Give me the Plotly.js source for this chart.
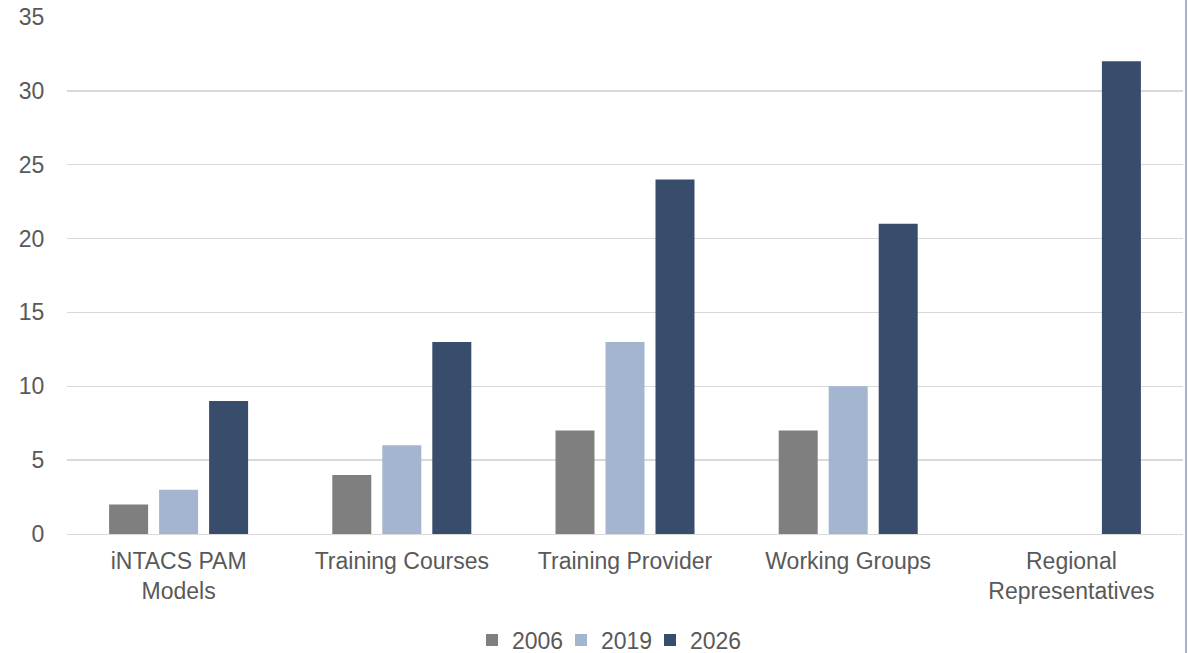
<!DOCTYPE html>
<html>
<head>
<meta charset="utf-8">
<script src="https://cdn.plot.ly/plotly-3.0.1.min.js"></script>
<style>
  html, body { margin: 0; padding: 0; background: #fff; }
  #wrap { position: relative; width: 1188px; height: 653px; }
  #chart { width: 1188px; height: 653px; }
  #edge { position: absolute; left: 1185px; top: 0; width: 2px; height: 653px; background: #a4b4cf; }
</style>
</head>
<body>
<div id="wrap">
  <div id="chart"></div>
  <div id="edge"></div>
</div>
<script>
const categories = ["iNTACS PAM<br>Models", "Training Courses", "Training Provider", "Working Groups", "Regional<br>Representatives"];
const years = ["2006", "2019", "2026"];
const values2006 = [2, 4, 7, 7, null];
const values2019 = [3, 6, 13, 10, null];
const values2026 = [9, 13, 24, 21, 32];
const yTicks = [0, 5, 10, 15, 20, 25, 30, 35];

const colors = ["#7f7f7f", "#a3b5cf", "#384c6b"];
const series = [values2006, values2019, values2026];
const legendIds = ["legend", "legend2", "legend3"];
const legendX = [472, 561, 650];

const font = { family: "Liberation Sans, Arial, sans-serif", size: 23, color: "#595959" };

const data = series.map((vals, i) => ({
  type: "bar",
  name: years[i],
  x: categories,
  y: vals,
  legend: legendIds[i],
  marker: { color: colors[i], line: { width: 0 } },
  hoverinfo: "x+y+name"
}));

const layout = {
  width: 1188,
  height: 653,
  margin: { l: 67, r: 5, t: 17, b: 119, autoexpand: false },
  paper_bgcolor: "#ffffff",
  plot_bgcolor: "#ffffff",
  font: font,
  barmode: "group",
  bargap: 0.328,
  bargroupgap: 0.22,
  showlegend: true,
  xaxis: {
    type: "category",
    automargin: false,
    showgrid: false,
    showline: true,
    linecolor: "#d9d9d9",
    linewidth: 1.3,
    ticks: "",
    ticklabelstandoff: 6,
    tickfont: font,
    fixedrange: true
  },
  yaxis: {
    automargin: false,
    range: [0, 35],
    tickvals: yTicks,
    ticktext: yTicks.map(String),
    showgrid: true,
    gridcolor: "#d9d9d9",
    gridwidth: 1.3,
    zeroline: false,
    showline: false,
    ticks: "outside",
    ticklen: 0,
    tickcolor: "rgba(0,0,0,0)",
    ticklabelstandoff: 17,
    tickfont: font,
    fixedrange: true
  }
};

legendIds.forEach((id, i) => {
  layout[id] = {
    orientation: "h",
    x: legendX[i] / 1188,
    xref: "container",
    xanchor: "left",
    y: 0.02,
    yref: "container",
    yanchor: "middle",
    font: font,
    bgcolor: "rgba(0,0,0,0)"
  };
});

Plotly.newPlot("chart", data, layout, { displayModeBar: false, staticPlot: true });
</script>
</body>
</html>
